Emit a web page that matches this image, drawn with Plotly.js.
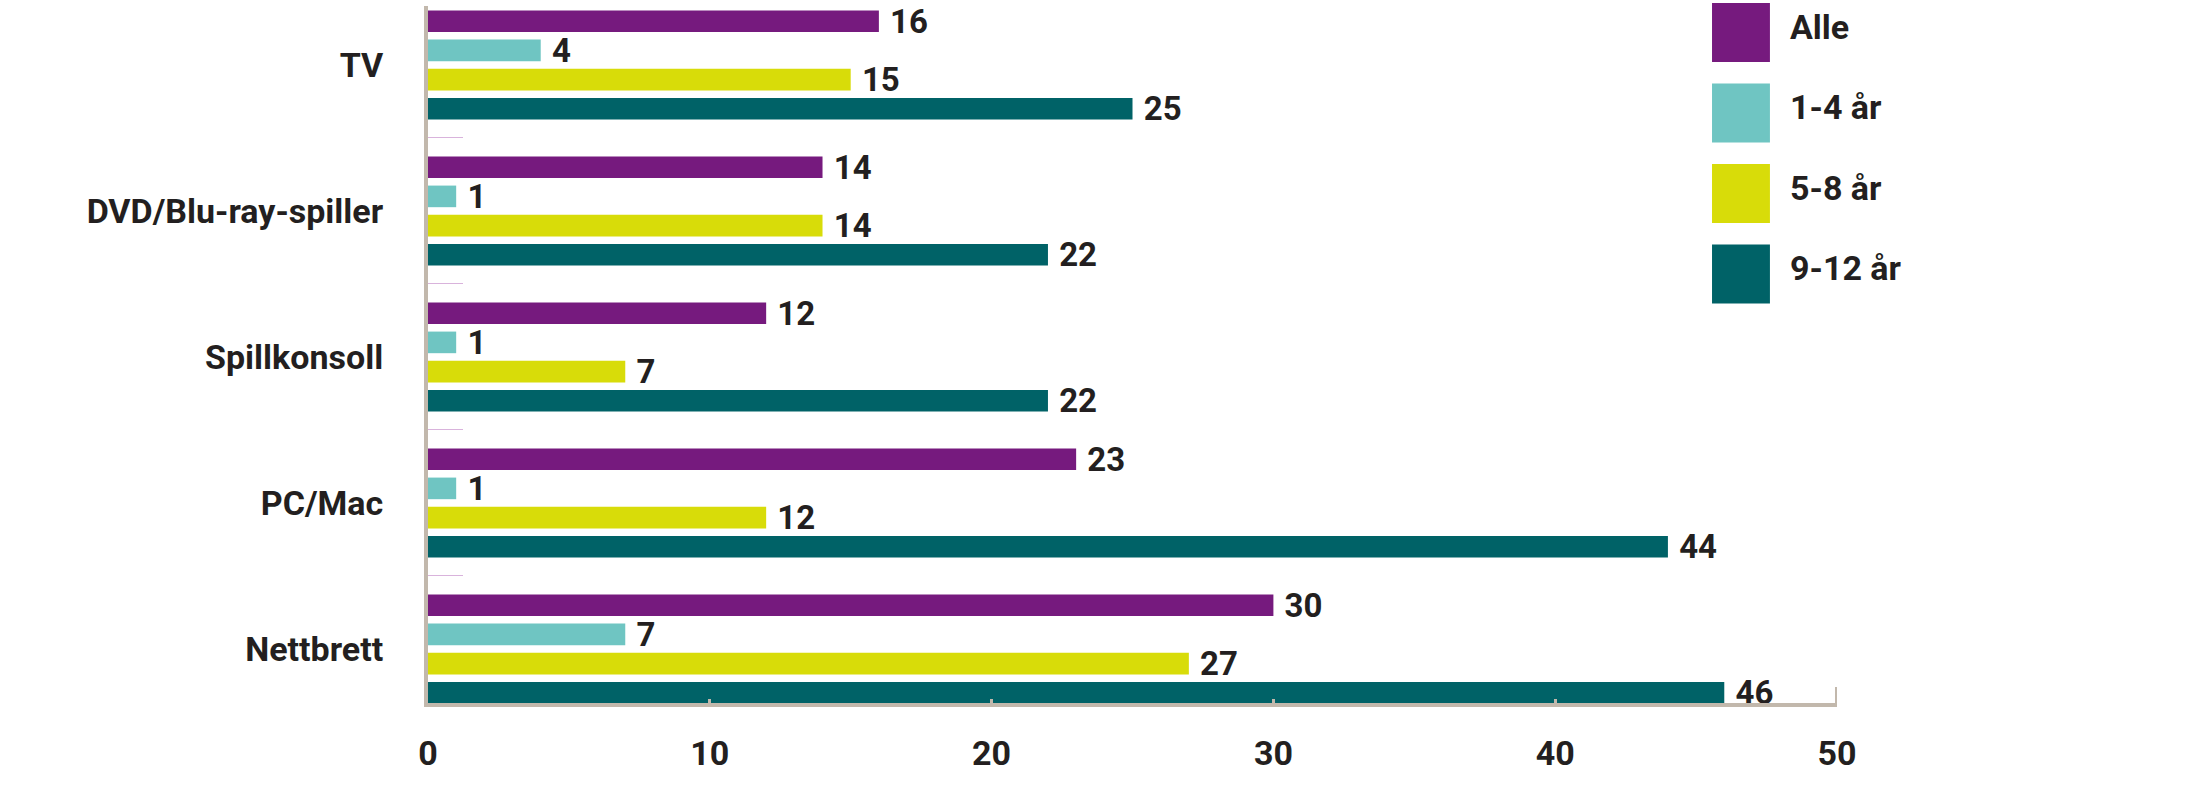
<!DOCTYPE html>
<html>
<head>
<meta charset="utf-8">
<script src="https://cdn.plot.ly/plotly-3.0.1.min.js"></script>
<style>
  html, body { margin: 0; padding: 0; background: #ffffff; }
  #chart { width: 2202px; height: 798px; }
</style>
</head>
<body>
<div id="chart"></div>
<script>
// Categories, top to bottom
const categories = ['TV', 'DVD/Blu-ray-spiller', 'Spillkonsoll', 'PC/Mac', 'Nettbrett'];

// Series (one per age group)
const seriesNames = ['Alle', '1-4 år', '5-8 år', '9-12 år'];
const seriesColors = ['#761a7e', '#6fc5c2', '#d8dc09', '#006267'];

const alleValues = [16, 14, 12, 23, 30];
const age1to4Values = [4, 1, 1, 1, 7];
const age5to8Values = [15, 14, 7, 12, 27];
const age9to12Values = [25, 22, 22, 44, 46];

const seriesValues = [alleValues, age1to4Values, age5to8Values, age9to12Values];

// X axis ticks
const xTickValues = [0, 10, 20, 30, 40, 50];
const xMax = 50;

const TEXT_COLOR = '#231f20';
const AXIS_COLOR = '#c2b8ac';
const FONT = 'Roboto, "DejaVu Sans", sans-serif';
const FONT_SIZE = 34;
const VALUE_FONT_SIZE = 33;

const traces = seriesNames.map((name, i) => ({
    type: 'bar',
    orientation: 'h',
    name: name,
    y: categories,
    x: seriesValues[i],
    marker: { color: seriesColors[i] },
    text: seriesValues[i].map(v => '\u00a0' + v),
    texttemplate: '%{text}',
    textposition: 'outside',
    textangle: 0,
    constraintext: 'none',
    cliponaxis: false,
    textfont: { family: FONT, size: VALUE_FONT_SIZE, color: TEXT_COLOR, weight: 700 },
    hoverinfo: 'skip',
    showlegend: false
}));

// Legend drawn by hand (large square swatches)
const legendShapes = [];
const legendAnnotations = [];
seriesNames.forEach((name, i) => {
    const top = 1.0043 - i * 0.1155;
    legendShapes.push({
        type: 'rect',
        xref: 'paper', yref: 'paper',
        x0: 0.9113, x1: 0.9524,
        y0: top - 0.0846, y1: top,
        fillcolor: seriesColors[i],
        line: { width: 0 }
    });
    legendAnnotations.push({
        xref: 'paper', yref: 'paper',
        x: 0.9652, y: top - 0.034,
        xanchor: 'left', yanchor: 'middle',
        text: name,
        showarrow: false,
        font: { family: FONT, size: FONT_SIZE, color: TEXT_COLOR, weight: 700 }
    });
});

// Tall end tick at the right end of the x axis
const axisShapes = [{
    type: 'line',
    xref: 'x', yref: 'paper',
    x0: xMax, x1: xMax,
    y0: -0.003, y1: 0.023,
    line: { color: AXIS_COLOR, width: 4 }
}];

const layout = {
    width: 2202,
    height: 798,
    margin: { l: 428, r: 365, t: 6, b: 95 },
    paper_bgcolor: '#ffffff',
    plot_bgcolor: '#ffffff',
    barmode: 'group',
    bargap: 0.2,
    bargroupgap: 0.26,
    showlegend: false,
    font: { family: FONT, size: FONT_SIZE, color: TEXT_COLOR },
    xaxis: {
        range: [0, xMax],
        tickvals: xTickValues,
        ticktext: xTickValues.map(String),
        showgrid: false,
        zeroline: false,
        showline: true,
        linecolor: AXIS_COLOR,
        linewidth: 4,
        ticks: 'inside',
        ticklen: 4,
        tickwidth: 3,
        tickcolor: AXIS_COLOR,
        ticklabelstandoff: 17,
        tickfont: { family: FONT, size: FONT_SIZE, color: TEXT_COLOR, weight: 700 },
        fixedrange: true
    },
    yaxis: {
        type: 'category',
        categoryorder: 'array',
        categoryarray: categories,
        range: [4.37, -0.404],
        autorange: false,
        showgrid: false,
        zeroline: false,
        showline: true,
        linecolor: AXIS_COLOR,
        linewidth: 4,
        ticks: 'inside',
        tickson: 'boundaries',
        ticklen: 35,
        tickwidth: 1,
        tickcolor: '#d9b3dc',
        ticklabelstandoff: 34,
        tickfont: { family: FONT, size: FONT_SIZE, color: TEXT_COLOR, weight: 700 },
        fixedrange: true
    },
    shapes: legendShapes.concat(axisShapes),
    annotations: legendAnnotations
};

Plotly.newPlot('chart', traces, layout, { displayModeBar: false, staticPlot: true });
</script>
</body>
</html>
